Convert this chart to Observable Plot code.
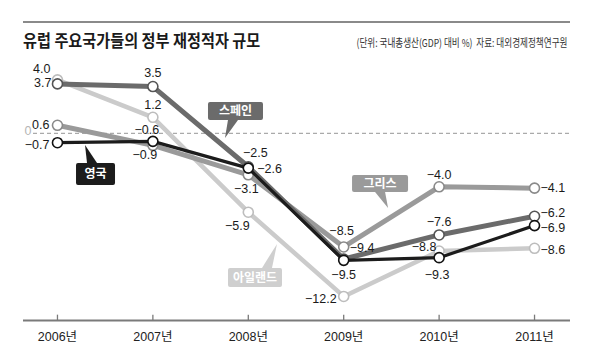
<!DOCTYPE html>
<html>
<head>
<meta charset="utf-8">
<script src="https://cdn.jsdelivr.net/npm/d3@7"></script>
<script src="https://cdn.jsdelivr.net/npm/@observablehq/plot@0.6"></script>
<style>
  body { margin: 0; background: #fff; }
  #wrap { width: 590px; height: 363px; position: relative; overflow: hidden; background: #fff; }
  #head { position: relative; height: 60px; }
  #rule { position: absolute; left: 23px; top: 21px; width: 547px; height: 0; border-top: 2px solid #8a8a8a; }
  #title { position: absolute; left: 23px; top: 30px; font-family: "Noto Sans CJK KR", sans-serif; font-weight: 700;
           font-size: 16.5px; line-height: 20px; color: #1a1a1a; white-space: nowrap; transform: scaleX(0.92); transform-origin: left center; }
  #note { position: absolute; right: 23px; top: 35px; font-family: "Noto Sans CJK KR", sans-serif; font-size: 11px; line-height: 14px;
          color: #333; white-space: nowrap; transform: scaleX(0.78); transform-origin: right center; }
  #chart svg { display: block; }
</style>
</head>
<body>
<div id="wrap">
  <div id="head">
    <div id="rule"></div>
    <div id="title">유럽 주요국가들의 정부 재정적자 규모</div>
    <div id="note">(단위: 국내총생산(GDP) 대비 %)&nbsp;&nbsp;자료: 대외경제정책연구원</div>
  </div>
  <div id="chart"></div>
</div>
<script>
// ---- data ----
const years = [2006, 2007, 2008, 2009, 2010, 2011];
const seriesNames = ["아일랜드", "그리스", "스페인", "영국"];
const ireland = [4.0, 1.2, -5.9, -12.2, -8.8, -8.6];
const greece  = [0.6, -0.9, -3.1, -8.5, -4.0, -4.1];
const spain   = [3.7, 3.5, -2.5, -9.4, -7.6, -6.2];
const uk      = [-0.7, -0.6, -2.6, -9.5, -9.3, -6.9];

// ---- styling / layout (code, not data) ----
const seriesValues = {"아일랜드": ireland, "그리스": greece, "스페인": spain, "영국": uk};
const colors = {"아일랜드": "#cbcbcb", "그리스": "#9a9a9a", "스페인": "#6b6b6b", "영국": "#1c1c1c"};
const widths = {"아일랜드": 4.5, "그리스": 5, "스페인": 5, "영국": 3.2};
const dotStroke = {"아일랜드": "#bdbdbd", "그리스": "#8a8a8a", "스페인": "#555", "영국": "#111"};

// label placement: [textAnchor, dx, dy] for each series, per year
const labelPlace = {
  "아일랜드": [["end",-7,-11],["middle",0,-12],["middle",-11,14],["end",-7,3],["middle",-15,-4],["start",6,2]],
  "그리스":   [["end",-8,0],["middle",-8,10],["middle",-2,14],["middle",-2,-16],["middle",0,-12],["start",6,0]],
  "스페인":   [["end",-6,-1],["middle",0,-14],["middle",7,-14],["start",6,-11],["middle",0,-13],["start",6,-3]],
  "영국":     [["end",-8,2],["middle",-6,-11],["start",9,1],["middle",0,15],["middle",-2,17],["start",6,2]]
};

// callouts: tail tip (data coords), box [dx, dy, w, h], tail base [x0, x1, y] relative to tip (px)
const callouts = [
  {label: "스페인", x: 2007.761, y: -0.39, fill: "#6b6b6b", box: [-17, -36, 55, 18], tail: [3, 13, -18]},
  {label: "영국", x: 2006.294, y: -0.91, fill: "#1c1c1c", box: [-9, 18, 39, 22], tail: [2, 12, 18]},
  {label: "그리스", x: 2009.470, y: -5.62, fill: "#9a9a9a", box: [-36, -33, 56, 17], tail: [-13, -3, -16]},
  {label: "아일랜드", x: 2008.306, y: -8.31, fill: "#cfcfcf", box: [-49, 24, 54, 19], tail: [-15, -5, 24]}
];

const fmt = d => (d < 0 ? "\u2212" : "") + Math.abs(d).toFixed(1);

function calloutMark(c) {
  return (index, scales) => {
    const X = scales.x(c.x), Y = scales.y(c.y);
    const [bx, by, bw, bh] = c.box;
    const [t0, t1, ty] = c.tail;
    const g = d3.create("svg:g");
    g.append("rect").attr("x", X + bx).attr("y", Y + by).attr("width", bw).attr("height", bh)
      .attr("rx", 2).attr("fill", c.fill);
    g.append("path").attr("d", `M${X + t0},${Y + ty}L${X},${Y}L${X + t1},${Y + ty}Z`).attr("fill", c.fill);
    g.append("text").attr("x", X + bx + bw / 2).attr("y", Y + by + bh / 2).attr("dy", "0.36em")
      .attr("text-anchor", "middle").attr("fill", "#fff")
      .attr("font-family", '"Noto Sans CJK KR", sans-serif').attr("font-weight", 700).attr("font-size", 12)
      .text(c.label);
    return g.node();
  };
}

const marks = [];
// zero dashed line and label
marks.push(Plot.ruleY([0], {stroke: "#aaa", strokeWidth: 1.2, strokeDasharray: "4,3", insetLeft: 10}));
marks.push(Plot.text([0], {x: () => years[0], y: d => d, text: () => "0", dx: -33, dy: -2, textAnchor: "start", fill: "#b5b5b5", fontSize: 12.5}));
// axis line + ticks
marks.push(Plot.ruleY([-14], {stroke: "#7a7a7a", strokeWidth: 2}));
marks.push(Plot.ruleX(years, {x: d => d, y1: -14, y2: -13.6, stroke: "#7a7a7a", strokeWidth: 1.3}));
marks.push(Plot.axisX({ticks: years, tickFormat: d => `${d}년`, tickSize: 0, tickPadding: 12, fontSize: 12.5, fill: "#222", label: null}));

// lines + dots
for (const s of seriesNames) {
  const rows = years.map((yr, i) => ({year: yr, value: seriesValues[s][i]}));
  marks.push(Plot.line(rows, {x: "year", y: "value", stroke: colors[s], strokeWidth: widths[s], strokeLinejoin: "round"}));
  marks.push(Plot.dot(rows, {x: "year", y: "value", r: 5, fill: "#fff", stroke: dotStroke[s], strokeWidth: 1.6}));
}
// value labels
for (const s of seriesNames) {
  years.forEach((yr, i) => {
    const [anchor, dx, dy] = labelPlace[s][i];
    marks.push(Plot.text([{year: yr, value: seriesValues[s][i]}], {
      x: "year", y: "value", text: d => fmt(d.value), textAnchor: anchor, dx, dy,
      fill: "#1a1a1a", fontSize: 12.5
    }));
  });
}
// callouts
for (const c of callouts) marks.push(calloutMark(c));

const chart = Plot.plot({
  width: 590,
  height: 303,
  marginLeft: 23,
  marginRight: 20,
  marginTop: 6,
  marginBottom: 43,
  x: {type: "linear", domain: [2005.644, 2011.377], label: null},
  y: {domain: [-14, 5], axis: null},
  style: {fontFamily: '"Liberation Sans", "Noto Sans CJK KR", sans-serif', fontSize: "13px", color: "#222", background: "#fff"},
  marks
});
document.getElementById("chart").appendChild(chart);
</script>
</body>
</html>
